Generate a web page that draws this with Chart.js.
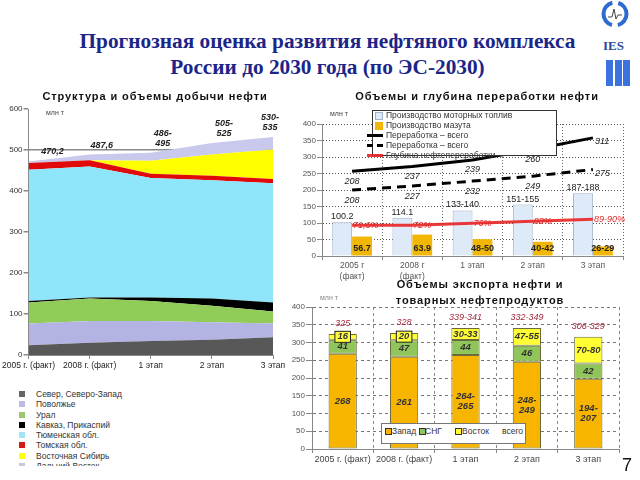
<!DOCTYPE html>
<html><head><meta charset="utf-8">
<script src="https://cdn.jsdelivr.net/npm/chart.js@4"></script>
<style>
body{margin:0;width:640px;height:480px;overflow:hidden;background:#fff;font-family:'Liberation Sans',Arial,sans-serif;position:relative}
.abs{position:absolute}
canvas{position:absolute}
#title{left:30px;width:595px;top:28px;text-align:center;font-family:'Liberation Serif','Times New Roman',serif;font-weight:bold;font-size:21.3px;line-height:26px;color:#1c2588;z-index:2}
.sub{font-weight:bold;font-size:11px;color:#111;white-space:nowrap;text-align:center;line-height:14px;letter-spacing:0.9px;z-index:2}
.unit{font-size:7px;color:#444;z-index:2}
#leg1{left:14px;top:389px;width:220px;height:77px;overflow:hidden;z-index:2}
#leg1 .row{position:relative;height:10.3px;font-size:8.5px;line-height:10.3px;color:#333;padding-left:22px;white-space:nowrap}
#leg1 .sw{position:absolute;left:5px;top:2px;width:6px;height:6px}
#leg2{left:372px;top:110px;width:183px;height:44px;border:1px solid #333;background:#fff;z-index:3}
#leg2 .row{position:absolute;left:0;height:10px;font-size:8.5px;line-height:10px;color:#333;white-space:nowrap}
#leg3{left:381px;top:423px;width:143px;height:19px;border:1px solid #777;background:#fff;z-index:3;font-size:8.5px;color:#333}
#leg3 span{position:absolute;top:2px;line-height:11px;white-space:nowrap}
#leg3 i{position:absolute;top:4px;width:5px;height:5px;border:1px solid #333}
</style></head><body>

<div id="title" class="abs">Прогнозная оценка развития нефтяного комплекса<br>России до 2030 года (по ЭС-2030)</div>
<div class="abs sub" style="left:0;width:310px;top:89px">Структура и объемы добычи нефти</div>
<div class="abs sub" style="left:330px;width:294px;top:89px">Объемы и глубина переработки нефти</div>
<div class="abs sub" style="left:370px;width:220px;top:276px;line-height:16px">Объемы экспорта нефти и<br>товарных нефтепродуктов</div>

<canvas id="c1" width="290" height="280" style="left:0;top:100px"></canvas>
<canvas id="c2" width="350" height="180" style="left:290px;top:104px"></canvas>
<canvas id="c3" width="350" height="172" style="left:290px;top:300px"></canvas>

<div class="abs unit" style="left:46px;top:109px">млн т</div>
<div class="abs unit" style="left:330px;top:110px">млн т</div>
<div class="abs unit" style="left:320px;top:294px;color:#888">млн т</div>

<div id="leg1" class="abs"></div>
<div id="leg2" class="abs"></div>
<div id="leg3" class="abs"></div>

<svg class="abs" style="left:598px;top:0" width="42" height="95">
  <circle cx="17" cy="14" r="11.5" fill="none" stroke="#2f6ad0" stroke-width="4" stroke-dasharray="30.1 6" stroke-dashoffset="15.05"/>
  <polyline points="10,17 14,17 16,9 18,19 20,15 24,15" fill="none" stroke="#444" stroke-width="1"/>
  <rect x="8" y="60" width="7" height="26" fill="#3a72e0"/>
  <rect x="17" y="60" width="7" height="26" fill="#3a72e0"/>
  <rect x="25" y="60" width="7" height="26" fill="#3a72e0"/>
</svg>
<div class="abs" style="left:603px;top:38px;font-family:'Liberation Serif',serif;font-weight:bold;font-size:13px;color:#2a4a9c;z-index:2">IES</div>
<div class="abs" style="left:622px;top:455px;font-size:18px;color:#111">7</div>

<script>
// ---------- Chart 1: production structure ----------
const prodCategories = ['2005 г. (факт)', '2008 г. (факт)', '1 этап', '2 этап', '3 этап'];
const prodRegions = ['Север, Северо-Запад', 'Поволжье', 'Урал', 'Кавказ, Прикаспий', 'Тюменская обл.', 'Томская обл.', 'Восточная Сибирь', 'Дальний Восток'];
const prodSever = [24, 30, 34, 37, 43];
const prodPovolzhye = [53, 53, 49, 43, 34];
const prodUral = [51, 55, 49, 40, 29];
const prodKavkaz = [4, 2, 8, 18, 22];
const prodTyumen = [320, 320, 292, 288, 291];
const prodTomsk = [16, 15, 10, 11, 10];
const prodVostSib = [0, 0, 32, 52, 72];
const prodDalVostok = [4, 14, 19, 28, 31];
const prodTotalLabels = ['470,2', '487,6', '486-\n495', '505-\n525', '530-\n535'];
const prodTicks = [0, 100, 200, 300, 400, 500, 600];

// ---------- Chart 2: refining ----------
const refCategories = [['2005 г', '(факт)'], ['2008 г', '(факт)'], '1 этап', '2 этап', '3 этап'];
const refSeriesNames = ['Производство моторных топлив', 'Производство мазута', 'Переработка – всего', 'Переработка – всего', 'Глубина нефтепереработки'];
const motorFuel = [102, 116, 138, 156, 190];
const motorFuelLabels = ['100.2', '114.1', '133-140', '151-155', '187-188'];
const mazut = [59, 65, 51, 43, 29];
const mazutLabels = ['56.7', '63.9', '48-50', '40-42', '26-29'];
const refiningTotal = [257, 271, 291, 323, 358];
const refiningTotalLabels = ['208', '237', '239', '260', '311'];
const refiningTotal2 = [200, 212, 227, 242, 262];
const refiningTotal2Labels = ['208', '227', '232', '249', '275'];
const refiningDepth = [93, 93, 99, 105, 111];
const refiningDepthLabels = ['71,6%', '72%', '76%', '83%', '89-90%'];

// ---------- Chart 3: export ----------
const expCategories = ['2005 г. (факт)', '2008 г. (факт)', '1 этап', '2 этап', '3 этап'];
const expSeriesNames = ['Запад', 'СНГ', 'Восток'];
const expWest = [268, 260, 265, 246, 198];
const expCIS = [40, 46, 42, 45, 43];
const expEast = [16, 21, 34, 50, 75];
const expWestLabels = ['268', '261', '264-\n265', '248-\n249', '194-\n207'];
const expCISLabels = ['41', '47', '44', '46', '42'];
const expEastLabels = ['16', '20', '30-33', '47-55', '70-80'];
const expTotalLabels = ['325', '328', '339-341', '332-349', '306-329'];

// ---------- styles ----------
const FONT = "'Liberation Sans', Arial, sans-serif";
Chart.defaults.font.family = FONT;
Chart.defaults.animation = false;
Chart.defaults.responsive = false;
Chart.defaults.plugins.legend.display = false;
Chart.defaults.plugins.tooltip.enabled = false;

const prodColors = ['#585858', '#b4b4e4', '#92cc58', '#000000', '#8fe6fb', '#e00a0a', '#ffff00', '#c9c9ee'];
const prodLegendColors = ['#666666', '#bcbce2', '#9cc874', '#000000', '#a3e3f5', '#d41818', '#ffff10', '#c8c8d8'];
const prodValues = [prodSever, prodPovolzhye, prodUral, prodKavkaz, prodTyumen, prodTomsk, prodVostSib, prodDalVostok];

document.getElementById('leg1').innerHTML = prodRegions.map((n, i) =>
  `<div class="row"><span class="sw" style="background:${prodLegendColors[i]}"></span>${n}</div>`).join('');

const prodLabelPlugin = {
  id: 'prodLabels',
  afterDatasetsDraw(chart) {
    const { ctx, chartArea } = chart;
    const meta = chart.getDatasetMeta(chart.data.datasets.length - 1);
    ctx.save();
    ctx.font = `italic bold 9px ${FONT}`;
    ctx.fillStyle = '#222';
    ctx.textAlign = 'center';
    ctx.textBaseline = 'alphabetic';
    prodTotalLabels.forEach((txt, i) => {
      const pt = meta.data[i];
      const lines = txt.split('\n');
      const x = Math.min(Math.max(pt.x + 12, chartArea.left + 24), chartArea.right - 3);
      const yBase = pt.y - 7;
      lines.forEach((ln, j) => ctx.fillText(ln, x, yBase - (lines.length - 1 - j) * 10));
    });
    ctx.restore();
  }
};

new Chart(document.getElementById('c1'), {
  type: 'line',
  data: {
    labels: prodCategories,
    datasets: prodValues.map((vals, i) => ({
      label: prodRegions[i], data: vals, backgroundColor: prodColors[i], borderColor: prodColors[i],
      borderWidth: 0, pointRadius: 0, tension: 0, fill: i === 0 ? 'origin' : '-1'
    }))
  },
  options: {
    layout: { padding: { top: 9, right: 17, left: 0, bottom: 0 } },
    scales: {
      x: {
        grid: { drawOnChartArea: false, tickLength: 4, tickColor: '#888' },
        border: { color: '#888' },
        ticks: { font: { size: 8.5 }, color: '#222', maxRotation: 0, autoSkip: false, padding: 2 },
        afterFit(s) { s.height = 25; }
      },
      y: {
        stacked: true, min: 0, max: 600,
        afterBuildTicks(s) { s.ticks = prodTicks.map(v => ({ value: v })); },
        ticks: { font: { size: 8 }, color: '#333', padding: 1 },
        grid: { color: c => (c.tick && c.tick.value === 500) ? '#8a8a8a' : 'rgba(0,0,0,0)', lineWidth: 1.5, tickColor: '#888', tickLength: 5 },
        border: { color: '#888' },
        afterFit(s) { s.width = 28; }
      }
    }
  },
  plugins: [prodLabelPlugin]
});

// ---------- Chart 2 ----------
const refStyles = [
  { type: 'bar', backgroundColor: '#dfeaf8', borderColor: '#9fb4cc', borderWidth: 1 },
  { type: 'bar', backgroundColor: '#f2b705', borderColor: '#f2b705', borderWidth: 0 },
  { type: 'line', borderColor: '#000', borderWidth: 3 },
  { type: 'line', borderColor: '#000', borderWidth: 3, borderDash: [9, 6] },
  { type: 'line', borderColor: 'rgba(232,36,36,0.9)', borderWidth: 3 }
];
const refValues = [motorFuel, mazut, refiningTotal, refiningTotal2, refiningDepth];

(function () {
  const leg = document.getElementById('leg2');
  leg.innerHTML = refSeriesNames.map((n, i) => {
    const st = refStyles[i];
    let marker;
    if (st.type === 'bar') {
      marker = `<span style="position:absolute;left:2px;top:1.5px;width:6px;height:6px;background:${st.backgroundColor};border:1px solid ${st.borderWidth ? st.borderColor : st.backgroundColor}"></span>`;
    } else {
      const style = st.borderDash ? `border-top:3px dashed ${st.borderColor}` : `border-top:3px solid ${st.borderColor}`;
      marker = `<span style="position:absolute;left:-6px;top:3.5px;width:16px;height:0;${style}"></span>`;
    }
    return `<div class="row" style="top:${-1 + i * 10}px">${marker}<span style="position:absolute;left:13px">${n}</span></div>`;
  }).join('');
})();

const refLabelPlugin = {
  id: 'refLabels',
  afterDatasetsDraw(chart) {
    const { ctx, chartArea } = chart;
    const m = [0, 1, 2, 3, 4].map(i => chart.getDatasetMeta(i));
    ctx.save();
    ctx.textAlign = 'center';
    ctx.font = `9px ${FONT}`; ctx.fillStyle = '#222'; ctx.textBaseline = 'bottom';
    m[0].data.forEach((b, i) => ctx.fillText(motorFuelLabels[i], b.x, b.y - 1));
    ctx.font = `bold 9px ${FONT}`; ctx.textBaseline = 'middle';
    m[1].data.forEach((b, i) => ctx.fillText(mazutLabels[i], b.x, chartArea.bottom - 7));
    ctx.font = `italic 9px ${FONT}`; ctx.fillStyle = '#222';
    [[m[2], refiningTotalLabels], [m[3], refiningTotal2Labels]].forEach(([meta, labels]) => {
      meta.data.forEach((p, i) => {
        if (i === labels.length - 1) { ctx.textAlign = 'left'; ctx.fillText(labels[i], p.x + 2, p.y + 4); }
        else { ctx.textAlign = 'center'; ctx.fillText(labels[i], p.x, p.y + 10); }
      });
    });
    ctx.fillStyle = '#e52a2a'; ctx.textAlign = 'left';
    m[4].data.forEach((p, i) => ctx.fillText(refiningDepthLabels[i], p.x + 1, p.y));
    ctx.restore();
  }
};

const gridInner = (n, col) => c => (c.index === 0 || c.index === n) ? 'rgba(0,0,0,0)' : col;

new Chart(document.getElementById('c2'), {
  type: 'bar',
  data: {
    labels: refCategories,
    datasets: refValues.map((vals, i) => Object.assign({
      label: refSeriesNames[i], data: vals, pointRadius: 0, fill: false, tension: 0,
      order: refStyles[i].type === 'line' ? 0 : 1,
      categoryPercentage: 0.66, barPercentage: 1
    }, refStyles[i]))
  },
  options: {
    layout: { padding: { top: 20, right: 17, left: 0, bottom: 0 } },
    scales: {
      x: {
        grid: { offset: true, color: gridInner(5, '#666'), tickColor: '#888', tickLength: 4 },
        border: { color: '#888', dash: [1, 2] },
        ticks: { font: { size: 8.5 }, color: '#555', maxRotation: 0, autoSkip: false, padding: 1 },
        afterFit(s) { s.height = 28; }
      },
      y: {
        min: 0, max: 400,
        ticks: { stepSize: 50, font: { size: 8 }, color: '#555', padding: 1 },
        grid: { color: c => c.index === 0 ? 'rgba(0,0,0,0)' : '#555', tickColor: '#888', tickLength: 5 },
        border: { color: '#888', dash: [1, 2] },
        afterFit(s) { s.width = 32; }
      }
    }
  },
  plugins: [refLabelPlugin]
});

// ---------- Chart 3 ----------
const expColors = ['#f7b500', '#8fc55a', '#ffff33'];
const expValues = [expWest, expCIS, expEast];

(function () {
  const leg = document.getElementById('leg3');
  const xs = [3, 37, 73];
  const tx = [10, 43, 80];
  let h = expSeriesNames.map((n, i) =>
    `<i style="left:${xs[i]}px;background:${expColors[i]}"></i><span style="left:${tx[i]}px">${n}</span>`).join('');
  h += `<span style="left:120px">всего</span>`;
  leg.innerHTML = h;
})();

const expLabelPlugin = {
  id: 'expLabels',
  afterDatasetsDraw(chart) {
    const ctx = chart.ctx;
    const sets = [expWestLabels, expCISLabels, expEastLabels];
    ctx.save();
    ctx.textAlign = 'center'; ctx.textBaseline = 'middle';
    ctx.font = `italic bold 9.5px ${FONT}`;
    sets.forEach((labels, d) => {
      const meta = chart.getDatasetMeta(d);
      meta.data.forEach((bar, i) => {
        const lines = labels[i].split('\n');
        const top = Math.min(bar.y, bar.base), bottom = Math.max(bar.y, bar.base);
        const cy = (top + bottom) / 2;
        if (bottom - top < 10) {
          const w = ctx.measureText(lines[0]).width + 5, hh = 11;
          ctx.fillStyle = '#ffff40';
          ctx.fillRect(bar.x - w / 2, cy - hh / 2, w, hh);
          ctx.strokeStyle = '#222'; ctx.lineWidth = 1;
          ctx.strokeRect(bar.x - w / 2, cy - hh / 2, w, hh);
        }
        ctx.fillStyle = '#333';
        lines.forEach((ln, j) => ctx.fillText(ln, bar.x, cy + (j - (lines.length - 1) / 2) * 10));
      });
    });
    const last = chart.getDatasetMeta(2);
    ctx.font = `italic 9px ${FONT}`; ctx.fillStyle = '#a3283c';
    last.data.forEach((bar, i) => ctx.fillText(expTotalLabels[i], bar.x, bar.y - 10));
    ctx.restore();
  }
};

new Chart(document.getElementById('c3'), {
  type: 'bar',
  data: {
    labels: expCategories,
    datasets: expValues.map((vals, i) => ({
      label: expSeriesNames[i], data: vals, backgroundColor: expColors[i],
      borderColor: '#6a6a3a', borderWidth: 1, borderSkipped: false,
      categoryPercentage: 1, barPercentage: 0.46
    }))
  },
  options: {
    layout: { padding: { top: 7, right: 21, left: 0, bottom: 0 } },
    scales: {
      x: {
        stacked: true,
        grid: { offset: true, color: gridInner(5, '#888'), tickColor: '#888', tickLength: 4 },
        border: { color: '#888', dash: [3, 3] },
        ticks: { font: { size: 9 }, color: '#444', maxRotation: 0, autoSkip: false, padding: 1 },
        afterFit(s) { s.height = 23; }
      },
      y: {
        stacked: true, min: 0, max: 400,
        ticks: { stepSize: 50, font: { size: 8 }, color: '#555', padding: 1 },
        grid: { color: c => c.index === 0 ? 'rgba(0,0,0,0)' : '#777', tickColor: '#888', tickLength: 6 },
        border: { color: '#888', dash: [3, 3] },
        afterFit(s) { s.width = 22; }
      }
    }
  },
  plugins: [expLabelPlugin]
});
</script>
</body></html>
